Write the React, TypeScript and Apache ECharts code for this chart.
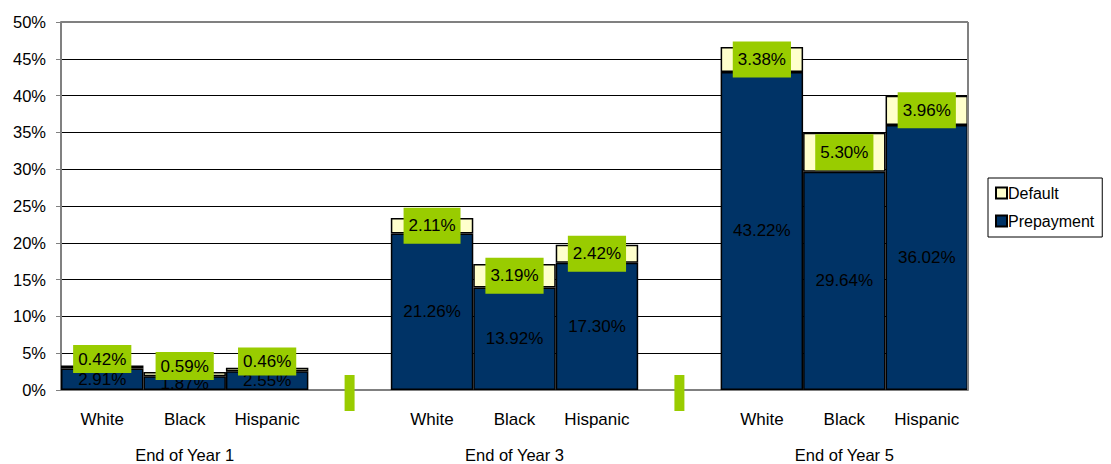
import React, { useEffect, useRef } from "react";
import * as echarts from "echarts";

// Loan outcomes by race, stacked: prepayment (bottom) and default (top), in percent
const categories = ["White", "Black", "Hispanic", "", "White", "Black", "Hispanic", "", "White", "Black", "Hispanic"];
const groupLabels = ["End of Year 1", "End of Year 3", "End of Year 5"];
const groupCenters = [1, 5, 9];
const prepayment = [2.91, 1.87, 2.55, null, 21.26, 13.92, 17.3, null, 43.22, 29.64, 36.02];
const defaults = [0.42, 0.59, 0.46, null, 2.11, 3.19, 2.42, null, 3.38, 5.3, 3.96];
const separatorSlots = [3, 7];
const yTicks = { min: 0, max: 50, interval: 5 };

const FONT = "'Liberation Sans', Arial, sans-serif";
const NAVY = "#003366";
const CREAM = "#FFFFCC";
const LIME = "#99CC00";

export default function App() {
  const ref = useRef<HTMLDivElement>(null);

  useEffect(() => {
    if (!ref.current) return;
    const chart = echarts.init(ref.current, null, { renderer: "svg" });

    const groupAxisData = categories.map((_, i) => {
      const g = groupCenters.indexOf(i);
      return g >= 0 ? groupLabels[g] : "";
    });

    const pct = (v: number) => v.toFixed(2) + "%";

    const defaultData = defaults.map((v) => {
      if (v == null) return null;
      // thin segments get a lifted, more compact tag
      if (v < 1) {
        return {
          value: v,
          label: { offset: [0, -8], padding: [6, 5, 5, 5] },
        };
      }
      return v;
    });

    chart.setOption({
      animation: false,
      textStyle: { fontFamily: FONT },
      grid: { left: 61, right: 143, top: 22, bottom: 74, containLabel: false },
      legend: {
        orient: "vertical",
        left: 988,
        top: 178,
        data: ["Default", "Prepayment"],
        icon: "rect",
        itemWidth: 11,
        itemHeight: 11,
        itemGap: 12,
        padding: [7, 8, 8, 7],
        borderColor: "#000",
        borderWidth: 1,
        textStyle: { fontSize: 16, color: "#000", fontFamily: FONT, padding: [0, 0, 0, -4] },
      },
      xAxis: [
        {
          type: "category",
          data: categories,
          axisLine: { lineStyle: { color: "#808080", width: 2 } },
          axisTick: { show: false },
          axisLabel: { color: "#000", fontSize: 17, margin: 21, interval: 0, fontFamily: FONT },
        },
        {
          type: "category",
          data: groupAxisData,
          position: "bottom",
          axisLine: { show: false },
          axisTick: { show: false },
          axisLabel: { color: "#000", fontSize: 16.5, margin: 56, interval: 0, fontFamily: FONT },
        },
      ],
      yAxis: {
        type: "value",
        min: yTicks.min,
        max: yTicks.max,
        interval: yTicks.interval,
        axisLine: { show: true, lineStyle: { color: "#808080", width: 2 } },
        axisTick: { show: true, length: 5, lineStyle: { color: "#808080" } },
        axisLabel: { formatter: "{value}%", color: "#000", fontSize: 16.5, margin: 15, fontFamily: FONT },
        splitLine: { lineStyle: { color: "#000", width: 1 } },
      },
      graphic: [
        {
          type: "line",
          shape: { x1: 61, y1: 22, x2: 968, y2: 22 },
          style: { stroke: "#808080", lineWidth: 2 },
          z: 5,
        },
        {
          type: "line",
          shape: { x1: 968, y1: 22, x2: 968, y2: 390 },
          style: { stroke: "#808080", lineWidth: 2 },
          z: 5,
        },
      ],
      series: [
        {
          name: "Prepayment",
          type: "bar",
          stack: "total",
          barCategoryGap: 0,
          data: prepayment,
          itemStyle: { color: NAVY, borderColor: "#000", borderWidth: 1.5 },
          label: {
            show: true,
            position: "inside",
            color: "#000",
            fontSize: 17,
            fontFamily: FONT,
            formatter: (p: any) => pct(p.value),
          },
          z: 2,
        },
        {
          name: "Default",
          type: "bar",
          stack: "total",
          barCategoryGap: 0,
          data: defaultData,
          itemStyle: { color: CREAM, borderColor: "#000", borderWidth: 1.5 },
          label: {
            show: true,
            position: "inside",
            color: "#000",
            fontSize: 17,
            fontFamily: FONT,
            backgroundColor: LIME,
            padding: [10, 5, 9, 5],
            formatter: (p: any) => pct(typeof p.value === "number" ? p.value : p.data.value),
          },
          z: 3,
        },
        {
          name: "separator",
          type: "custom",
          xAxisIndex: 0,
          clip: false,
          data: separatorSlots.map((s) => [s, 0]),
          renderItem: (params: any, api: any) => {
            const pt = api.coord([api.value(0), api.value(1)]);
            return {
              type: "rect",
              shape: { x: pt[0] - 5, y: pt[1] - 15, width: 10, height: 36 },
              style: { fill: LIME },
            };
          },
          z: 6,
        },
      ],
    });

    return () => chart.dispose();
  }, []);

  return (
    <div
      ref={ref}
      style={{ position: "fixed", left: 0, top: 0, width: 1111, height: 464, background: "#fff" }}
    />
  );
}
